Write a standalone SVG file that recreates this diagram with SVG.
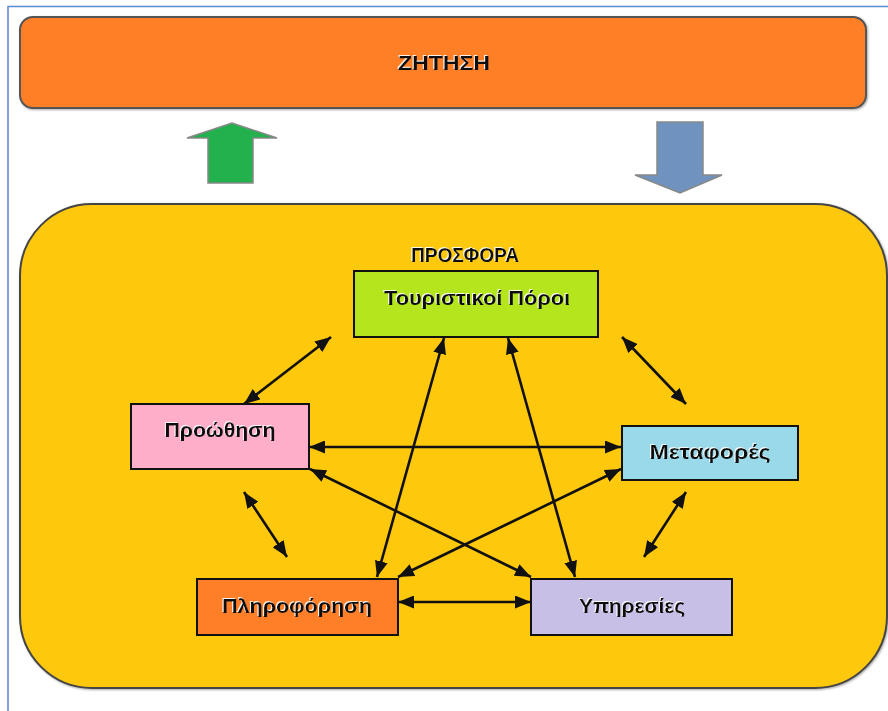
<svg xmlns="http://www.w3.org/2000/svg" width="888" height="711" viewBox="0 0 888 711">
  <defs>
    <marker id="ah" viewBox="0 0 16 13" refX="16" refY="6.5" markerWidth="16" markerHeight="13" markerUnits="userSpaceOnUse" orient="auto-start-reverse">
      <path d="M0,0 L16,6.5 L0,13 Z" fill="#111"/>
    </marker>
    <filter id="glow" x="-10%" y="-30%" width="120%" height="160%">
      <feDropShadow dx="-1" dy="-1" stdDeviation="0.4" flood-color="#ffffff" flood-opacity="0.9"/>
    </filter>
    <filter id="soft" x="-5%" y="-5%" width="110%" height="110%">
      <feDropShadow dx="1" dy="1" stdDeviation="1" flood-color="#000" flood-opacity="0.35"/>
    </filter>
  </defs>
  <style>
    .lbl { font-family: "Liberation Sans", Arial, sans-serif; font-weight: bold; font-size: 21px; fill: #111; text-anchor: middle; }
    .box { stroke: #111; stroke-width: 2; }
    .conn line { stroke: #111; stroke-width: 2.6; marker-start: url(#ah); marker-end: url(#ah); }
  </style>
  <rect width="888" height="711" fill="#ffffff"/>
  <path d="M8,711 L8,6.5 L888,6.5" fill="none" stroke="#5b8bd0" stroke-width="1.5"/>

  <g id="zitisi">
    <rect x="20" y="17" width="846" height="91" rx="13" fill="#fe7f27" stroke="#555" stroke-width="2" filter="url(#soft)"/>
    <text class="lbl" x="444" y="70" textLength="92" lengthAdjust="spacingAndGlyphs" filter="url(#glow)">ΖΗΤΗΣΗ</text>
  </g>

  <g id="arrow-up">
    <path d="M208,183 L208,138 L187,138 L232,123 L277,138 L253,138 L253,183 Z" fill="#22b14c" stroke="#888" stroke-width="1.5"/>
  </g>
  <g id="arrow-down">
    <path d="M657,122 L703,122 L703,175 L722,175 L680,193 L635,175 L657,175 Z" fill="#7092be" stroke="#888" stroke-width="1.5"/>
  </g>

  <g id="prosfora">
    <rect x="20" y="204" width="867" height="484" rx="72" fill="#fec80e" stroke="#444" stroke-width="2" filter="url(#soft)"/>
    <text class="lbl" x="465" y="262" textLength="108" lengthAdjust="spacingAndGlyphs" filter="url(#glow)">ΠΡΟΣΦΟΡΑ</text>
  </g>

  <g class="conn" id="connectors">
    <line x1="331" y1="337" x2="244" y2="404"/>
    <line x1="622" y1="337" x2="686" y2="404"/>
    <line x1="244" y1="492" x2="287" y2="557"/>
    <line x1="686" y1="492" x2="644" y2="557"/>
    <line x1="309" y1="447" x2="621" y2="447"/>
    <line x1="398" y1="602" x2="531" y2="602"/>
    <line x1="310" y1="469" x2="531" y2="577"/>
    <line x1="621" y1="469" x2="398" y2="577"/>
    <line x1="444" y1="338" x2="377" y2="577"/>
    <line x1="508" y1="338" x2="575" y2="577"/>
  </g>

  <g id="touristikoi-poroi">
    <rect class="box" x="354" y="271" width="244" height="66" fill="#b5e61d"/>
    <text class="lbl" x="477" y="305" textLength="186" lengthAdjust="spacingAndGlyphs" filter="url(#glow)">Τουριστικοί Πόροι</text>
  </g>
  <g id="proothisi">
    <rect class="box" x="131" y="404" width="178" height="65" fill="#ffaec9"/>
    <text class="lbl" x="220" y="437" textLength="111" lengthAdjust="spacingAndGlyphs" filter="url(#glow)">Προώθηση</text>
  </g>
  <g id="metafores">
    <rect class="box" x="622" y="426" width="176" height="54" fill="#99d9ea"/>
    <text class="lbl" x="710" y="459" textLength="121" lengthAdjust="spacingAndGlyphs" filter="url(#glow)">Μεταφορές</text>
  </g>
  <g id="pliroforisi">
    <rect class="box" x="197" y="579" width="201" height="56" fill="#fe7f27"/>
    <text class="lbl" x="297" y="613" textLength="150" lengthAdjust="spacingAndGlyphs" filter="url(#glow)">Πληροφόρηση</text>
  </g>
  <g id="ypiresies">
    <rect class="box" x="531" y="579" width="201" height="56" fill="#c8bfe7"/>
    <text class="lbl" x="632" y="613" textLength="106" lengthAdjust="spacingAndGlyphs" filter="url(#glow)">Υπηρεσίες</text>
  </g>
</svg>
